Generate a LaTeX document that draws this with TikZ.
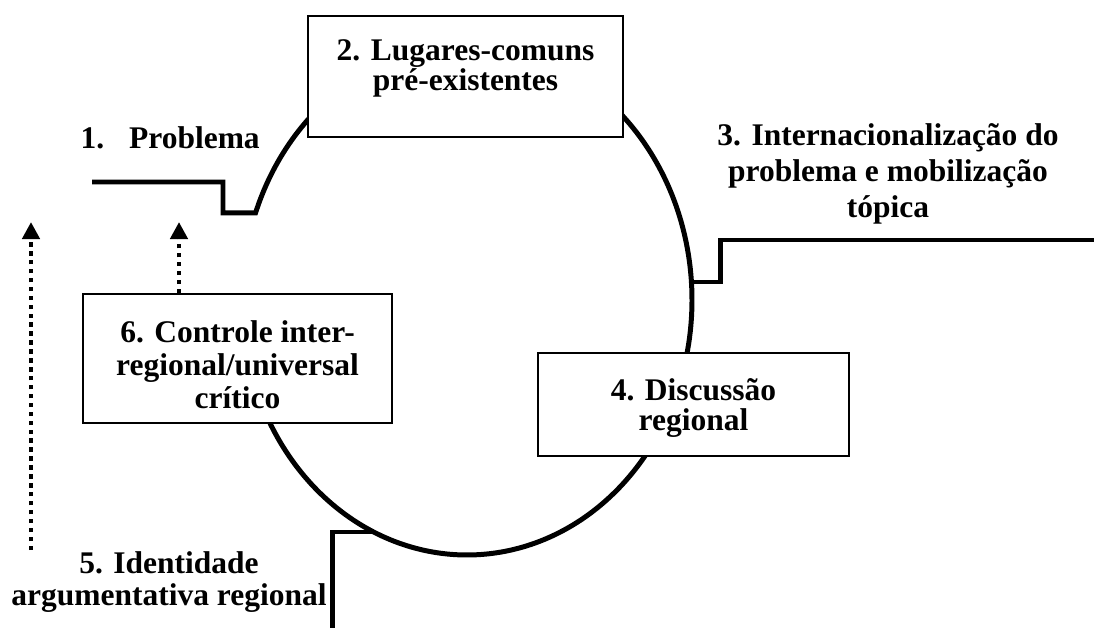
\documentclass[tikz,border=0pt]{standalone}
\usepackage{fontspec}
\setmainfont{Liberation Serif}
\usetikzlibrary{arrows.meta,fit}
\tikzset{
  thickline/.style={line width=1.9pt},
  box/.style={draw, line width=0.75pt, fill=white, inner sep=0pt},
  boxtxt/.style={align=center, inner sep=0pt, font=\fontsize{12}{#1}\selectfont\bfseries},
  boxtxt/.default=12,
  dotarrow/.style={line width=1.7pt, dash pattern=on 1.7pt off 1.7pt,
    -{Triangle[width=6.5pt,length=6.5pt]}},
}
\begin{document}
\begin{tikzpicture}[x=0.381pt, y=-0.381pt]
  \useasboundingbox (0,0) rectangle (1094,628);
  % 1: problem enters the cycle
  \coordinate (probstart) at (92,182);
  \coordinate (arcstart) at ({467+225*cos(200)},{300+255*sin(200)});
  \draw[thickline] (probstart) -- (223,182) |- (arcstart)
    -- plot[domain=200:530, samples=120, smooth] ({467+225*cos(\x)},{300+255*sin(\x)});
  % 3: step out to the right
  \coordinate (intstart) at (691,282);
  \coordinate (intend) at (1094,240);
  \draw[thickline] (intstart) -- (720,282) |- (intend);
  % 5: step from below
  \coordinate (idbottom) at (332,628);
  \coordinate (idjoin) at (374,532);
  \draw[thickline] (idbottom) |- (idjoin);
  % boxes
  \node[box, fit={(308,16) (623,137)},
    label={[boxtxt=11.4, yshift=3.2pt]center:2. Lugares-comuns\\pré-existentes}] (lugares) {};
  \node[box, fit={(83,294) (392,423)},
    label={[boxtxt=12.6, yshift=-2.3pt]center:6. Controle inter-\\regional/universal\\crítico}] (controle) {};
  \node[box, fit={(538,353) (849,456)},
    label={[boxtxt=11.2, yshift=-1.3pt]center:4. Discussão\\regional}] (discussao) {};
  % free labels
  \node[boxtxt, anchor=base west] (problema) at (80,149) {1.\hspace{9.5pt}Problema};
  \node[boxtxt=13.8] (internacional) at (888,174) {3. Internacionalização do\\problema e mobilização\\tópica};
  \node[boxtxt=12.2] (identidade) at (169,582) {5. Identidade\\argumentativa regional};
  % feedback arrows
  \coordinate (fbtip) at (179,222);
  \draw[dotarrow] (controle.north -| fbtip) -- (fbtip);
  \coordinate (idtip) at (31,222);
  \coordinate (idfoot) at (31,550);
  \draw[dotarrow] (idfoot) -- (idtip);
\end{tikzpicture}
\end{document}
